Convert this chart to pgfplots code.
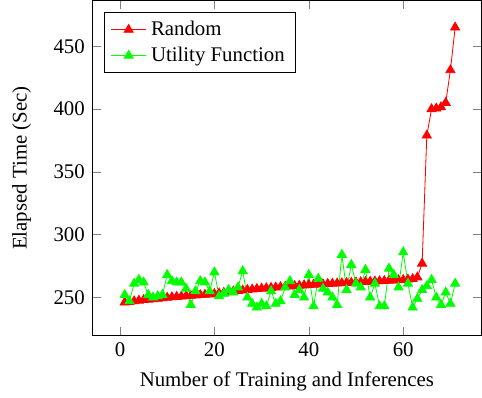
\documentclass[border=0pt]{standalone}
\usepackage{fontspec}
\setmainfont{Liberation Serif}
\usepackage{pgfplots}
\pgfplotsset{compat=1.18}
\begin{document}
\begin{tikzpicture}
\begin{axis}[
  scale only axis,
  width=187pt, height=161pt,
  xmin=-5.9, xmax=76.6,
  ymin=219.5, ymax=486.5,
  xtick={0,20,40,60},
  ytick={250,300,350,400,450},
  xlabel={Number of Training and Inferences},
  ylabel={Elapsed Time (Sec)},
  ylabel style={yshift=1.5pt, inner sep=5.8pt},
  /pgf/number format/assume math mode=true,
  legend pos=north west,
  legend cell align=left,
  legend style={font=\normalsize, at={(0.03,0.965)}},
  tick label style={font=\normalsize},
]
\addplot[color=red, mark=triangle*, mark size=2.5pt] coordinates {
(1,246) (2,246.5) (3,247) (4,247.5) (5,248) (6,248.3) (7,248.7) (8,249) (9,249.4) (10,249.8)
(11,250.2) (12,250.5) (13,250.8) (14,251.1) (15,251.4) (16,251.7) (17,252) (18,252.2) (19,252.5) (20,252.8)
(21,253.3) (22,253.8) (23,254.3) (24,254.8) (25,255.2) (26,255.6) (27,256) (28,256.4) (29,256.8) (30,257.1)
(31,257.4) (32,257.7) (33,258) (34,258.3) (35,258.6) (36,258.9) (37,259.2) (38,259.4) (39,259.7) (40,260)
(41,260.2) (42,260.4) (43,260.6) (44,260.8) (45,261) (46,261.2) (47,261.4) (48,261.6) (49,261.8) (50,262)
(51,262.2) (52,262.4) (53,262.6) (54,262.8) (55,263) (56,263.2) (57,263.4) (58,263.6) (59,263.8) (60,264)
(61,264.3) (62,264.7) (63,266) (64,277) (65,379) (66,400) (67,400.5) (68,401.5) (69,405) (70,431) (71,465)
};
\addlegendentry{Random}
\addplot[color=green, mark=triangle*, mark size=2.5pt] coordinates {
(1,252) (2,247) (3,261) (4,264) (5,262) (6,252) (7,250) (8,251) (9,252) (10,268)
(11,263) (12,262) (13,262) (14,257) (15,244) (16,255) (17,263) (18,262) (19,255) (20,270)
(21,251) (22,253) (23,256) (24,254) (25,258) (26,271) (27,250) (28,245) (29,242) (30,245)
(31,243) (32,255) (33,245) (34,247) (35,258) (36,263) (37,252) (38,256) (39,250) (40,268)
(41,243) (42,265) (43,257) (44,254) (45,250) (46,244) (47,284) (48,256) (49,276) (50,261)
(51,258) (52,272) (53,250) (54,261) (55,243) (56,243) (57,273) (58,268) (59,258) (60,286)
(61,261) (62,242) (63,249) (64,256) (65,259) (66,264) (67,250) (68,244) (69,254) (70,245) (71,261)
};
\addlegendentry{Utility Function}
\end{axis}
\end{tikzpicture}
\end{document}
